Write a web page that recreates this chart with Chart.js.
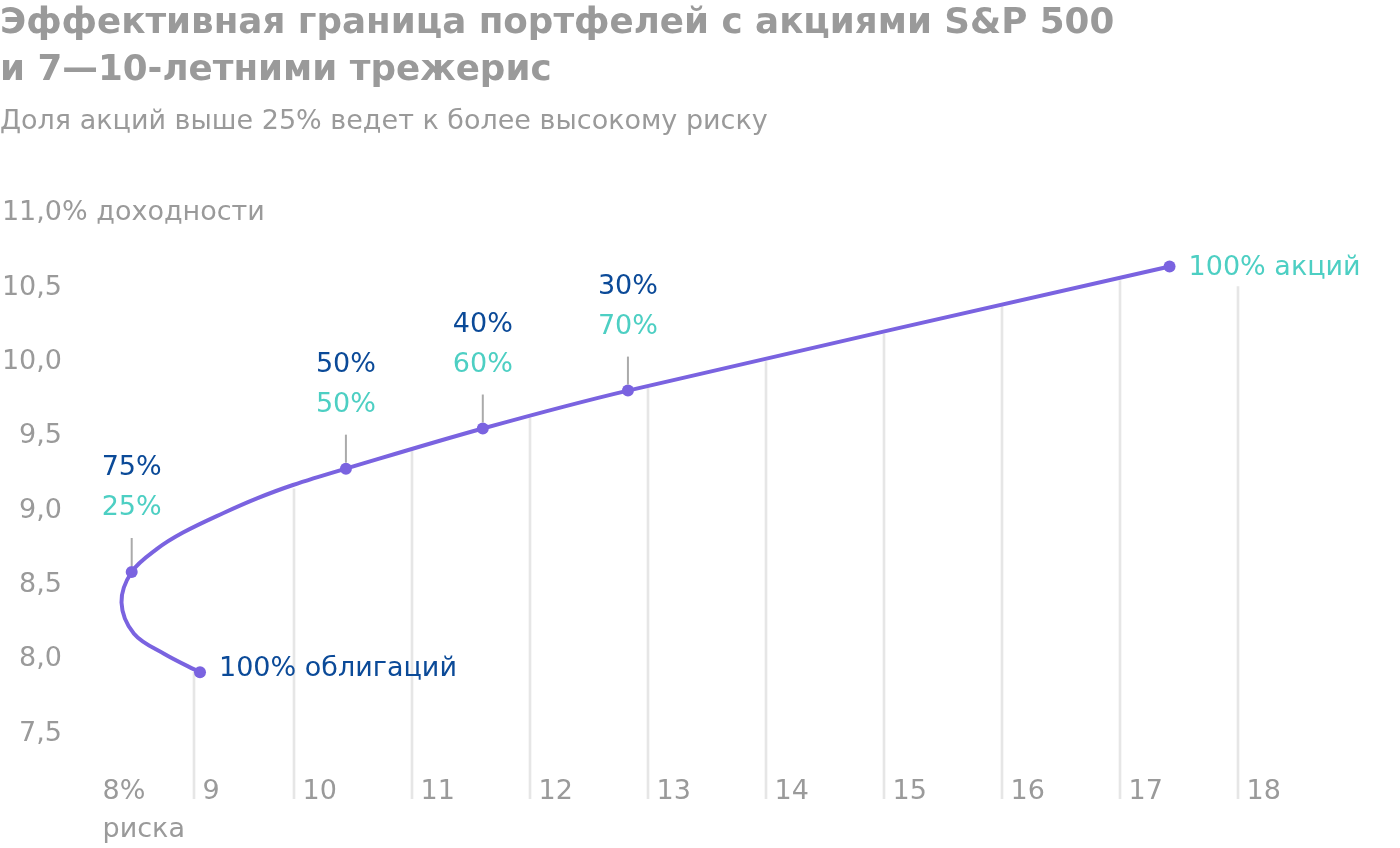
<!DOCTYPE html>
<html>
<head>
<meta charset="utf-8">
<script src="https://cdn.jsdelivr.net/npm/chart.js@4/dist/chart.umd.min.js"></script>
<style>
  html, body { margin: 0; padding: 0; background: #fff; }
  #wrap { width: 1400px; height: 848px; }
</style>
</head>
<body>
<div id="wrap"><canvas id="chart" width="1400" height="848"></canvas></div>
<script>
// Frontier curve: risk (x, %) and return (y, %)
const curveRisk   = [9.06, 8.70, 8.40, 8.275, 8.377, 8.63, 8.89, 9.29, 9.63, 9.99, 10.44, 11.60, 12.83, 17.42];
const curveReturn = [7.90, 8.025, 8.16, 8.37, 8.575, 8.73, 8.84, 8.97, 9.07, 9.16, 9.27, 9.54, 9.795, 10.63];

// Marked portfolios (bonds share / stocks share)
const portfolioRisk   = [9.06, 8.377, 10.44, 11.60, 12.83, 17.42];
const portfolioReturn = [7.90, 8.575, 9.27, 9.54, 9.795, 10.63];
const bondShare  = ['100%', '75%', '50%', '40%', '30%', '0%'];
const stockShare = ['0%', '25%', '50%', '60%', '70%', '100%'];

// Light vertical guides from the axis up to the curve
const guideRisk = [9, 10, 11, 12, 13, 14, 15, 16, 17, 18];
const guideTop  = [7.90, 9.135, 9.395, 9.61, 9.81, 9.99, 10.175, 10.36, 10.535, 10.495];
const guideBase = 7.05;

const xTicks = [8, 9, 10, 11, 12, 13, 14, 15, 16, 17, 18];
const xTickLabels = ['8%', '9', '10', '11', '12', '13', '14', '15', '16', '17', '18'];
const yTicks = [7.5, 8, 8.5, 9, 9.5, 10, 10.5, 11];

const PURPLE = '#7a63e0';
const BLUE = '#0b4a98';
const TEAL = '#4dcfc3';
const GRAY = '#9a9a9a';
const FONT = '"DejaVu Sans"';

// The source axis is squeezed left of 10% (100px per unit instead of 118px)
class SqueezedScale extends Chart.LinearScale {
    static id = 'squeezed';
    static defaults = Chart.LinearScale.defaults;
    warp(v) { return v < 10 ? 10 - (10 - v) * (100 / 118) : v; }
    unwarp(d) { return d < 10 ? 10 - (10 - d) * (118 / 100) : d; }
    getPixelForValue(v) {
        if (v === null || isNaN(v)) return NaN;
        const a = this.warp(this.min), b = this.warp(this.max);
        return this.getPixelForDecimal((this.warp(v) - a) / (b - a));
    }
    getValueForPixel(p) {
        const a = this.warp(this.min), b = this.warp(this.max);
        return this.unwarp(a + this.getDecimalForPixel(p) * (b - a));
    }
}
Chart.register(SqueezedScale);

const annotations = {
    id: 'annotations',
    afterDatasetsDraw(chart) {
        const ctx = chart.ctx;
        const pts = chart.getDatasetMeta(1).data;
        ctx.save();
        ctx.font = '27px ' + FONT;
        ctx.textBaseline = 'middle';
        pts.forEach((p, i) => {
            if (i === 0) {
                ctx.textAlign = 'left';
                ctx.fillStyle = BLUE;
                ctx.fillText(bondShare[i] + ' облигаций', p.x + 19, p.y - 3);
            } else if (i === pts.length - 1) {
                ctx.textAlign = 'left';
                ctx.fillStyle = TEAL;
                ctx.fillText(stockShare[i] + ' акций', p.x + 19, p.y + 2);
            } else {
                ctx.strokeStyle = '#aaaaaa';
                ctx.lineWidth = 2;
                ctx.beginPath();
                ctx.moveTo(p.x, p.y - 6);
                ctx.lineTo(p.x, p.y - 34);
                ctx.stroke();
                ctx.textAlign = 'center';
                ctx.fillStyle = BLUE;
                ctx.fillText(bondShare[i], p.x, p.y - 104);
                ctx.fillStyle = TEAL;
                ctx.fillText(stockShare[i], p.x, p.y - 64);
            }
        });
        // unit next to the top y tick
        const y = chart.scales.y;
        ctx.textAlign = 'left';
        ctx.fillStyle = GRAY;
        ctx.fillText('% доходности', y.right - 32, y.getPixelForValue(11) + 2);
        ctx.restore();
    }
};

const ctx = document.getElementById('chart').getContext('2d');

new Chart(ctx, {
    type: 'line',
    data: {
        datasets: [{
            type: 'line',
            data: curveRisk.map((x, i) => ({ x: x, y: curveReturn[i] })),
            borderColor: PURPLE,
            borderWidth: 4,
            tension: 0.35,
            pointRadius: 0,
            fill: false,
            order: 1
        }, {
            type: 'line',
            data: portfolioRisk.map((x, i) => ({ x: x, y: portfolioReturn[i] })),
            showLine: false,
            pointRadius: 6,
            pointBackgroundColor: PURPLE,
            pointBorderWidth: 0,
            order: 0
        }, {
            type: 'bar',
            data: guideRisk.map((x, i) => ({ x: x, y: [guideBase, guideTop[i]] })),
            backgroundColor: '#e6e6e6',
            barThickness: 2,
            clip: false,
            order: 2
        }]
    },
    options: {
        responsive: false,
        animation: false,
        events: [],
        layout: { padding: { left: 0, right: 162, top: 0, bottom: 0 } },
        plugins: {
            legend: { display: false },
            tooltip: { enabled: false },
            title: {
                display: true,
                text: ['Эффективная граница портфелей с акциями S&P 500', 'и 7—10-летними трежерис'],
                align: 'start',
                color: GRAY,
                font: { family: FONT, size: 35.7, weight: 'bold', lineHeight: 1.317 },
                padding: { top: 0, bottom: 12 }
            },
            subtitle: {
                display: true,
                text: 'Доля акций выше 25% ведет к более высокому риску',
                align: 'start',
                color: GRAY,
                font: { family: FONT, size: 27, lineHeight: 1.2 },
                padding: { top: 0, bottom: 73 }
            }
        },
        scales: {
            x: {
                type: 'squeezed',
                min: 8,
                max: 18,
                offset: false,
                grid: { display: false, drawTicks: false, offset: false },
                border: { display: false },
                afterBuildTicks: s => { s.ticks = xTicks.map(v => ({ value: v })); },
                ticks: {
                    autoSkip: false,
                    maxRotation: 0,
                    align: 'start',
                    padding: 2,
                    color: GRAY,
                    font: { family: FONT, size: 27 },
                    callback: (v, i) => ' ' + xTickLabels[i]
                },
                title: {
                    display: true,
                    text: ' риска',
                    align: 'start',
                    color: GRAY,
                    font: { family: FONT, size: 27 },
                    padding: { top: 3, bottom: 2 }
                }
            },
            y: {
                type: 'linear',
                min: 7.215,
                max: 11,
                grid: { display: false, drawTicks: false },
                border: { display: false },
                afterBuildTicks: s => { s.ticks = yTicks.map(v => ({ value: v })); },
                afterFit: s => { s.width = 94; },
                ticks: {
                    padding: 32,
                    labelOffset: 2,
                    color: GRAY,
                    font: { family: FONT, size: 27 },
                    callback: v => v.toFixed(1).replace('.', ',')
                }
            }
        }
    },
    plugins: [annotations]
});
</script>
</body>
</html>
